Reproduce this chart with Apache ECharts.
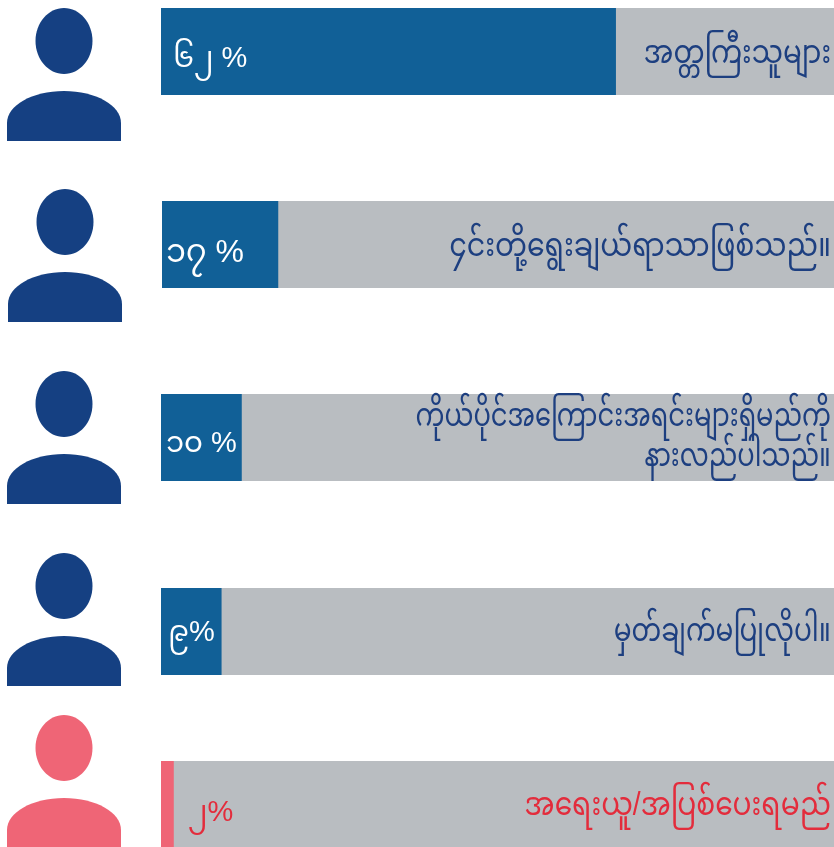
<!DOCTYPE html>
<html>
<head>
<meta charset="utf-8">
<title>Chart</title>
<style>
  html, body { margin: 0; padding: 0; background: #fff; overflow: hidden; }
  #chart { width: 834px; height: 847px; }
</style>
<script src="https://cdn.jsdelivr.net/npm/echarts@6/dist/echarts.min.js"></script>
</head>
<body>
<div id="chart"></div>
<script>
// Percent labels as printed on the picture
var percentLabels = ['၆၂ %', '၁၇ %', '၁၀ %', '၉%', '၂%'];
// Fill lengths, as % of the grey track
// (the printed 62 and 10 bars are drawn longer than their labels)
var fillLengths = [67.6, 17.3, 12, 9, 1.9];
var trackLengths = [100, 100, 100, 100, 100];
var answers = [
  'အတ္တကြီးသူများ',
  '၄င်းတို့ရွေးချယ်ရာသာဖြစ်သည်။',
  'ကိုယ်ပိုင်အကြောင်းအရင်းများရှိမည်ကို\nနားလည်ပါသည်။',
  'မှတ်ချက်မပြုလိုပါ။',
  'အရေးယူ/အပြစ်ပေးရမည်'
];

// Layout per row
var rowTops = [8, 201, 394, 588, 761];
var rowLefts = [161, 162, 161, 161, 161];
var rowHeight = 87;
var iconTops = [8, 189, 371, 553, 715];
var iconLefts = [7, 8, 7, 7, 7];
var labelLefts = [12, 4, 5, 7, 27];
var labelDrops = [51, 52, 50, 45, 52];
var labelSizes = [29, 32, 29, 29, 29];
// Reference type is condensed, so answers are squeezed horizontally
var answerSqueeze = [0.84, 0.86, 0.78, 0.8, 0.853];
var answerCentres = [54, 247, 437, 632, 806];
var fontFamily = '"Liberation Sans", "Noto Sans Myanmar", "Noto Sans", sans-serif';

var blue = '#116097';
var red = '#ef6576';
var grey = '#b9bdc1';
var navy = '#1d3f80';
var iconBlue = '#154082';
var textRed = '#e32c3c';

// Shoulders of the person icon: flat bottom, domed top
echarts.graphic.registerShape('personBody', echarts.graphic.extendShape({
  shape: { w: 114, h: 50 },
  buildPath: function(ctx, shape) {
    var w = shape.w, h = shape.h, s = 32;
    ctx.moveTo(0, h);
    ctx.lineTo(0, s);
    ctx.bezierCurveTo(0, s * 0.45, w * 0.22, 0, w / 2, 0);
    ctx.bezierCurveTo(w * 0.78, 0, w, s * 0.45, w, s);
    ctx.lineTo(w, h);
    ctx.closePath();
  }
}));

var grids = [], xAxes = [], yAxes = [], series = [], graphics = [];

answers.forEach(function(answer, i) {
  var isLast = i === answers.length - 1;

  grids.push({ left: rowLefts[i], right: 0, top: rowTops[i], height: rowHeight });
  xAxes.push({ gridIndex: i, type: 'value', min: 0, max: 100, show: false });
  yAxes.push({ gridIndex: i, type: 'category', data: [answer], show: false });

  // grey track
  series.push({
    type: 'bar',
    xAxisIndex: i,
    yAxisIndex: i,
    data: [trackLengths[i]],
    barWidth: rowHeight,
    barGap: '-100%',
    silent: true,
    itemStyle: { color: grey }
  });

  // coloured fill, holds the percent
  series.push({
    type: 'bar',
    xAxisIndex: i,
    yAxisIndex: i,
    data: [fillLengths[i]],
    barWidth: rowHeight,
    barGap: '-100%',
    silent: true,
    z: 3,
    itemStyle: { color: isLast ? red : blue },
    label: {
      show: true,
      position: [labelLefts[i], labelDrops[i]],
      verticalAlign: 'middle',
      formatter: percentLabels[i],
      fontFamily: fontFamily,
      fontSize: labelSizes[i],
      color: isLast ? textRed : '#fff'
    }
  });

  // answer text, right aligned on the track
  graphics.push({
    type: 'text',
    x: 831,
    y: answerCentres[i],
    scaleX: answerSqueeze[i],
    z: 10,
    style: {
      text: answer,
      align: 'right',
      verticalAlign: 'middle',
      fontFamily: fontFamily,
      fontSize: 33,
      lineHeight: 40,
      fill: isLast ? textRed : navy
    }
  });

  // person icon: head and shoulders
  var color = isLast ? red : iconBlue;
  graphics.push({
    type: 'group',
    left: iconLefts[i],
    top: iconTops[i],
    children: [
      { type: 'ellipse', shape: { cx: 57, cy: 33, rx: 28.5, ry: 33 }, style: { fill: color } },
      { type: 'personBody', x: 0, y: 83, style: { fill: color } }
    ]
  });
});

var chart = echarts.init(document.getElementById('chart'));
chart.setOption({
  animation: false,
  backgroundColor: '#fff',
  grid: grids,
  xAxis: xAxes,
  yAxis: yAxes,
  series: series,
  graphic: graphics
});
</script>
</body>
</html>
